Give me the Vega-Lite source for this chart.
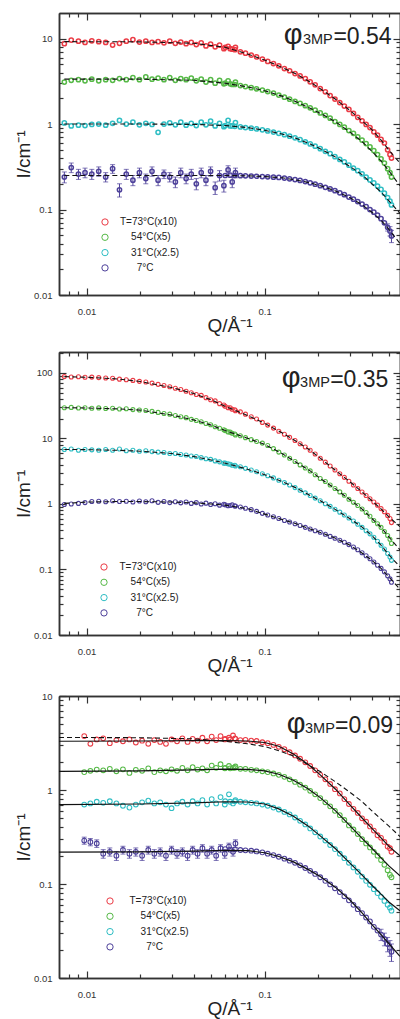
{
"$schema": "https://vega.github.io/schema/vega-lite/v6.json",
"padding": {"left": 14, "top": 12, "right": 0, "bottom": 0},
"spacing": 15,
"background": "white",
"config": {
  "view": {"stroke": null},
  "axis": {"grid": false, "domainColor": "#333333", "domainWidth": 1.5, "tickColor": "#333333", "tickWidth": 1.2, "labelColor": "#333333", "labelFont": "Liberation Sans", "labelFontSize": 9.5, "titleFont": "Liberation Sans", "titleFontWeight": "normal", "titleColor": "#222222", "labelFlush": false},
  "legend": {"orient": "none", "title": null, "symbolType": "circle", "symbolSize": 40, "symbolStrokeWidth": 1, "labelFont": "Liberation Sans", "labelFontSize": 10, "labelColor": "#222222", "rowPadding": 3.3, "padding": 0}
},
"datasets": {
"d1": [
{"q":0.0075,"a":8.7,"b":3.1,"c":1.03,"d":0.24},{"q":0.0082,"a":9.6,"b":3.25,"c":0.95,"d":0.31},{"q":0.009,"a":9.3,"b":3.3,"c":0.97,"d":0.26},{"q":0.0098,"a":9.0,"b":3.2,"c":0.96,"d":0.27},{"q":0.0107,"a":9.4,"b":3.35,"c":0.99,"d":0.26},{"q":0.0117,"a":9.2,"b":3.2,"c":1.0,"d":0.28},{"q":0.0128,"a":9.0,"b":3.3,"c":0.97,"d":0.24},{"q":0.014,"a":8.4,"b":3.25,"c":1.02,"d":0.3},{"q":0.0153,"a":8.8,"b":3.4,"c":1.1,"d":0.17},{"q":0.0167,"a":9.3,"b":3.3,"c":1.0,"d":0.26},{"q":0.0182,"a":9.7,"b":3.5,"c":1.05,"d":0.22},{"q":0.0198,"a":9.1,"b":3.3,"c":0.98,"d":0.27},{"q":0.0215,"a":9.3,"b":3.55,"c":1.02,"d":0.23},{"q":0.0233,"a":9.0,"b":3.35,"c":0.99,"d":0.28},{"q":0.0252,"a":9.2,"b":3.45,"c":0.8,"d":0.22},{"q":0.0272,"a":8.9,"b":3.3,"c":1.0,"d":0.26},{"q":0.0293,"a":9.3,"b":3.5,"c":1.03,"d":0.24},{"q":0.0315,"a":8.8,"b":3.25,"c":0.98,"d":0.21},{"q":0.0338,"a":9.1,"b":3.4,"c":1.05,"d":0.27},{"q":0.0362,"a":8.7,"b":3.3,"c":0.97,"d":0.23},{"q":0.0387,"a":9.0,"b":3.45,"c":1.02,"d":0.26},{"q":0.0413,"a":8.5,"b":3.2,"c":0.96,"d":0.2},{"q":0.044,"a":8.9,"b":3.35,"c":1.05,"d":0.27},{"q":0.0468,"a":8.2,"b":3.1,"c":0.98,"d":0.22},{"q":0.0497,"a":8.6,"b":3.3,"c":1.08,"d":0.28},{"q":0.0527,"a":8.0,"b":3.0,"c":0.95,"d":0.18},{"q":0.0558,"a":8.4,"b":3.25,"c":1.02,"d":0.25},{"q":0.059,"a":7.6,"b":2.95,"c":0.93,"d":0.19},{"q":0.0623,"a":8.1,"b":3.2,"c":1.1,"d":0.29},{"q":0.0657,"a":7.5,"b":2.9,"c":0.95,"d":0.21},{"q":0.0685,"a":7.9,"b":3.1,"c":1.04,"d":0.27},
{"q":0.06,"a":7.9,"b":3.0,"c":0.96,"d":0.25},{"q":0.064,"a":7.6,"b":2.95,"c":0.95,"d":0.252},{"q":0.068,"a":7.4,"b":2.9,"c":0.94,"d":0.25},{"q":0.073,"a":7.0,"b":2.82,"c":0.925,"d":0.249},{"q":0.078,"a":6.75,"b":2.74,"c":0.91,"d":0.248},{"q":0.084,"a":6.4,"b":2.66,"c":0.895,"d":0.246},{"q":0.09,"a":6.1,"b":2.58,"c":0.875,"d":0.245},{"q":0.097,"a":5.75,"b":2.5,"c":0.855,"d":0.243},{"q":0.104,"a":5.4,"b":2.4,"c":0.83,"d":0.241},{"q":0.112,"a":5.1,"b":2.3,"c":0.805,"d":0.239},{"q":0.12,"a":4.8,"b":2.18,"c":0.78,"d":0.237},{"q":0.129,"a":4.45,"b":2.06,"c":0.75,"d":0.233},{"q":0.138,"a":4.2,"b":1.95,"c":0.72,"d":0.229},{"q":0.148,"a":3.9,"b":1.84,"c":0.69,"d":0.224},{"q":0.158,"a":3.65,"b":1.74,"c":0.655,"d":0.219},{"q":0.169,"a":3.4,"b":1.64,"c":0.62,"d":0.212},{"q":0.18,"a":3.12,"b":1.55,"c":0.585,"d":0.205},{"q":0.192,"a":2.88,"b":1.45,"c":0.55,"d":0.198},{"q":0.205,"a":2.6,"b":1.35,"c":0.515,"d":0.19},{"q":0.219,"a":2.38,"b":1.26,"c":0.48,"d":0.182},{"q":0.233,"a":2.15,"b":1.17,"c":0.45,"d":0.174},{"q":0.248,"a":1.96,"b":1.07,"c":0.415,"d":0.166},{"q":0.264,"a":1.78,"b":0.99,"c":0.385,"d":0.157},{"q":0.28,"a":1.62,"b":0.92,"c":0.36,"d":0.149},{"q":0.297,"a":1.48,"b":0.84,"c":0.33,"d":0.14},{"q":0.315,"a":1.33,"b":0.78,"c":0.305,"d":0.132},{"q":0.333,"a":1.2,"b":0.71,"c":0.285,"d":0.124},{"q":0.352,"a":1.09,"b":0.65,"c":0.262,"d":0.116},{"q":0.371,"a":0.99,"b":0.59,"c":0.24,"d":0.108},{"q":0.39,"a":0.91,"b":0.54,"c":0.222,"d":0.1},{"q":0.41,"a":0.81,"b":0.49,"c":0.205,"d":0.093},{"q":0.43,"a":0.74,"b":0.44,"c":0.188,"d":0.086},{"q":0.45,"a":0.66,"b":0.39,"c":0.172,"d":0.078},{"q":0.47,"a":0.6,"b":0.35,"c":0.155,"d":0.07},{"q":0.49,"a":0.5,"b":0.3,"c":0.138,"d":0.062},{"q":0.505,"a":0.44,"b":0.27,"c":0.125,"d":0.056},{"q":0.515,"a":0.4,"b":0.24,"c":0.113,"d":0.049}
],
"f1": [
{"q":0.0075,"a":9.2,"b":3.35,"c":1.0,"d":0.25},{"q":0.02,"a":9.15,"b":3.35,"c":1.0,"d":0.25},{"q":0.04,"a":8.8,"b":3.25,"c":0.99,"d":0.25},{"q":0.06,"a":7.9,"b":3.0,"c":0.96,"d":0.25},{"q":0.08,"a":6.6,"b":2.72,"c":0.91,"d":0.248},{"q":0.1,"a":5.6,"b":2.45,"c":0.845,"d":0.243},{"q":0.125,"a":4.6,"b":2.12,"c":0.765,"d":0.235},{"q":0.15,"a":3.85,"b":1.82,"c":0.68,"d":0.222},{"q":0.18,"a":3.1,"b":1.53,"c":0.585,"d":0.205},{"q":0.21,"a":2.5,"b":1.3,"c":0.5,"d":0.187},{"q":0.25,"a":1.95,"b":1.06,"c":0.41,"d":0.165},{"q":0.3,"a":1.45,"b":0.81,"c":0.32,"d":0.138},{"q":0.35,"a":1.1,"b":0.63,"c":0.258,"d":0.115},{"q":0.4,"a":0.86,"b":0.48,"c":0.2,"d":0.093},{"q":0.45,"a":0.65,"b":0.37,"c":0.16,"d":0.075},{"q":0.5,"a":0.49,"b":0.28,"c":0.125,"d":0.058},{"q":0.575,"a":0.35,"b":0.19,"c":0.09,"d":0.04}
],
"e1": [
{"q":0.0075,"i":0.24,"e":0.035},{"q":0.0082,"i":0.31,"e":0.04},{"q":0.009,"i":0.26,"e":0.035},{"q":0.0098,"i":0.27,"e":0.035},{"q":0.0107,"i":0.26,"e":0.035},{"q":0.0117,"i":0.28,"e":0.035},{"q":0.0128,"i":0.24,"e":0.03},{"q":0.014,"i":0.3,"e":0.035},{"q":0.0153,"i":0.17,"e":0.03},{"q":0.0167,"i":0.26,"e":0.035},{"q":0.0182,"i":0.22,"e":0.03},{"q":0.0198,"i":0.27,"e":0.035},{"q":0.0215,"i":0.23,"e":0.03},{"q":0.0233,"i":0.28,"e":0.035},{"q":0.0252,"i":0.22,"e":0.03},{"q":0.0272,"i":0.26,"e":0.03},{"q":0.0293,"i":0.24,"e":0.03},{"q":0.0315,"i":0.21,"e":0.03},{"q":0.0338,"i":0.27,"e":0.035},{"q":0.0362,"i":0.23,"e":0.03},{"q":0.0387,"i":0.26,"e":0.035},{"q":0.0413,"i":0.2,"e":0.03},{"q":0.044,"i":0.27,"e":0.035},{"q":0.0468,"i":0.22,"e":0.03},{"q":0.0497,"i":0.28,"e":0.035},{"q":0.0527,"i":0.18,"e":0.03},{"q":0.0558,"i":0.25,"e":0.035},{"q":0.059,"i":0.19,"e":0.03},{"q":0.0623,"i":0.29,"e":0.035},{"q":0.0657,"i":0.21,"e":0.03},{"q":0.0685,"i":0.27,"e":0.035},{"q":0.49,"i":0.062,"e":0.006},{"q":0.505,"i":0.056,"e":0.007},{"q":0.515,"i":0.049,"e":0.008}
],
"d2": [
{"q":0.0075,"a":88,"b":29.5,"c":6.8,"d":0.98},{"q":0.0082,"a":87,"b":29.8,"c":6.9,"d":1.0},{"q":0.009,"a":87.5,"b":29.2,"c":6.6,"d":1.02},{"q":0.0098,"a":86,"b":29.5,"c":6.8,"d":1.05},{"q":0.0107,"a":86.5,"b":29,"c":6.7,"d":1.09},{"q":0.0117,"a":85,"b":29.3,"c":6.6,"d":1.1},{"q":0.0128,"a":84,"b":28.7,"c":6.8,"d":1.08},{"q":0.014,"a":83,"b":29,"c":6.6,"d":1.12},{"q":0.0153,"a":80.5,"b":28.2,"c":6.9,"d":1.09},{"q":0.0167,"a":79,"b":28.5,"c":6.5,"d":1.1},{"q":0.0182,"a":77,"b":27.6,"c":6.6,"d":1.07},{"q":0.0198,"a":74.5,"b":27.2,"c":6.4,"d":1.11},{"q":0.0215,"a":73,"b":26.8,"c":6.5,"d":1.08},{"q":0.0233,"a":70,"b":25.9,"c":6.3,"d":1.12},{"q":0.0252,"a":67,"b":25,"c":6.2,"d":1.06},{"q":0.0272,"a":64.5,"b":24,"c":6.1,"d":1.09},{"q":0.0293,"a":61.5,"b":23.5,"c":5.9,"d":1.05},{"q":0.0315,"a":58.5,"b":22.4,"c":5.9,"d":1.08},{"q":0.0338,"a":56,"b":21.5,"c":5.7,"d":1.04},{"q":0.0362,"a":52.5,"b":20.8,"c":5.6,"d":1.07},{"q":0.0387,"a":50,"b":19.6,"c":5.4,"d":1.02},{"q":0.0413,"a":47,"b":18.8,"c":5.3,"d":1.05},{"q":0.044,"a":45.5,"b":18,"c":5.1,"d":1.0},{"q":0.0468,"a":42,"b":16.9,"c":4.9,"d":1.03},{"q":0.0497,"a":39,"b":16.2,"c":4.8,"d":0.98},{"q":0.0527,"a":37.5,"b":15.1,"c":4.55,"d":1.01},{"q":0.0558,"a":34,"b":14.3,"c":4.4,"d":0.96},{"q":0.059,"a":32.5,"b":13.6,"c":4.2,"d":0.99},{"q":0.0623,"a":29.5,"b":12.6,"c":4.1,"d":0.94},{"q":0.0657,"a":28,"b":12,"c":3.9,"d":0.97},{"q":0.0685,"a":26.5,"b":11.3,"c":3.8,"d":0.93},
{"q":0.06,"a":31,"b":13.2,"c":4.2,"d":0.97},{"q":0.064,"a":29.5,"b":12.5,"c":4.05,"d":0.95},{"q":0.068,"a":27.5,"b":11.7,"c":3.9,"d":0.93},{"q":0.073,"a":25.5,"b":11.0,"c":3.7,"d":0.9},{"q":0.078,"a":23.5,"b":10.3,"c":3.5,"d":0.86},{"q":0.084,"a":21.5,"b":9.6,"c":3.3,"d":0.82},{"q":0.09,"a":19.8,"b":9.0,"c":3.1,"d":0.77},{"q":0.097,"a":17.6,"b":8.5,"c":2.9,"d":0.72},{"q":0.104,"a":16,"b":7.8,"c":2.7,"d":0.68},{"q":0.112,"a":14.4,"b":7.0,"c":2.5,"d":0.64},{"q":0.12,"a":12.9,"b":6.2,"c":2.3,"d":0.6},{"q":0.129,"a":11.6,"b":5.6,"c":2.12,"d":0.56},{"q":0.138,"a":10.4,"b":5.0,"c":1.95,"d":0.53},{"q":0.148,"a":9.3,"b":4.45,"c":1.78,"d":0.5},{"q":0.158,"a":8.3,"b":3.95,"c":1.62,"d":0.47},{"q":0.169,"a":7.4,"b":3.55,"c":1.48,"d":0.44},{"q":0.18,"a":6.6,"b":3.2,"c":1.35,"d":0.415},{"q":0.192,"a":5.8,"b":2.8,"c":1.23,"d":0.39},{"q":0.205,"a":5.0,"b":2.45,"c":1.12,"d":0.37},{"q":0.219,"a":4.35,"b":2.2,"c":1.01,"d":0.345},{"q":0.233,"a":3.8,"b":1.95,"c":0.92,"d":0.32},{"q":0.248,"a":3.3,"b":1.72,"c":0.83,"d":0.3},{"q":0.264,"a":2.9,"b":1.53,"c":0.75,"d":0.28},{"q":0.28,"a":2.55,"b":1.36,"c":0.68,"d":0.26},{"q":0.297,"a":2.22,"b":1.18,"c":0.61,"d":0.24},{"q":0.315,"a":1.95,"b":1.06,"c":0.55,"d":0.22},{"q":0.333,"a":1.72,"b":0.95,"c":0.49,"d":0.2},{"q":0.352,"a":1.52,"b":0.84,"c":0.44,"d":0.18},{"q":0.371,"a":1.35,"b":0.74,"c":0.39,"d":0.162},{"q":0.39,"a":1.2,"b":0.65,"c":0.35,"d":0.146},{"q":0.41,"a":1.07,"b":0.56,"c":0.31,"d":0.13},{"q":0.43,"a":0.96,"b":0.5,"c":0.27,"d":0.116},{"q":0.45,"a":0.85,"b":0.44,"c":0.235,"d":0.104},{"q":0.47,"a":0.76,"b":0.38,"c":0.205,"d":0.092},{"q":0.49,"a":0.67,"b":0.33,"c":0.175,"d":0.08},{"q":0.505,"a":0.6,"b":0.29,"c":0.155,"d":0.072},{"q":0.515,"a":0.52,"b":0.25,"c":0.138,"d":0.064}
],
"f2": [
{"q":0.0075,"a":88,"b":29.5,"c":6.8,"d":1.02},{"q":0.01,"a":86,"b":29.2,"c":6.75,"d":1.07},{"q":0.015,"a":81,"b":28.3,"c":6.6,"d":1.09},{"q":0.02,"a":74,"b":27.1,"c":6.4,"d":1.09},{"q":0.03,"a":60,"b":22.8,"c":5.9,"d":1.07},{"q":0.04,"a":48.5,"b":19.2,"c":5.3,"d":1.04},{"q":0.05,"a":39,"b":16.0,"c":4.7,"d":1.0},{"q":0.06,"a":31,"b":13.2,"c":4.2,"d":0.96},{"q":0.08,"a":22.5,"b":10.1,"c":3.4,"d":0.85},{"q":0.1,"a":17,"b":8.1,"c":2.8,"d":0.7},{"q":0.125,"a":12.2,"b":5.9,"c":2.2,"d":0.58},{"q":0.15,"a":9.1,"b":4.35,"c":1.76,"d":0.5},{"q":0.18,"a":6.6,"b":3.2,"c":1.35,"d":0.415},{"q":0.21,"a":4.75,"b":2.35,"c":1.08,"d":0.36},{"q":0.25,"a":3.25,"b":1.7,"c":0.82,"d":0.3},{"q":0.3,"a":2.2,"b":1.17,"c":0.6,"d":0.236},{"q":0.35,"a":1.55,"b":0.85,"c":0.45,"d":0.18},{"q":0.4,"a":1.12,"b":0.6,"c":0.33,"d":0.138},{"q":0.45,"a":0.84,"b":0.44,"c":0.235,"d":0.104},{"q":0.5,"a":0.63,"b":0.31,"c":0.165,"d":0.076},{"q":0.575,"a":0.45,"b":0.2,"c":0.11,"d":0.05}
],
"d3": [
{"q":0.0097,"a":3.75,"b":1.55,"c":0.7,"d":0.29},{"q":0.0105,"a":3.1,"b":1.6,"c":0.72,"d":0.28},{"q":0.0114,"a":3.45,"b":1.65,"c":0.75,"d":0.27},{"q":0.0124,"a":3.55,"b":1.62,"c":0.73,"d":0.21},{"q":0.0135,"a":3.15,"b":1.68,"c":0.76,"d":0.22},{"q":0.0147,"a":3.4,"b":1.58,"c":0.72,"d":0.2},{"q":0.016,"a":3.3,"b":1.66,"c":0.68,"d":0.23},{"q":0.0174,"a":3.45,"b":1.52,"c":0.65,"d":0.21},{"q":0.0189,"a":3.2,"b":1.64,"c":0.7,"d":0.22},{"q":0.0205,"a":3.35,"b":1.6,"c":0.74,"d":0.2},{"q":0.0222,"a":3.1,"b":1.7,"c":0.77,"d":0.23},{"q":0.024,"a":3.4,"b":1.55,"c":0.72,"d":0.21},{"q":0.0259,"a":3.25,"b":1.62,"c":0.74,"d":0.22},{"q":0.0279,"a":3.1,"b":1.58,"c":0.7,"d":0.2},{"q":0.03,"a":3.45,"b":1.66,"c":0.64,"d":0.23},{"q":0.0322,"a":3.3,"b":1.6,"c":0.72,"d":0.21},{"q":0.0345,"a":3.55,"b":1.72,"c":0.75,"d":0.22},{"q":0.0369,"a":3.25,"b":1.62,"c":0.7,"d":0.2},{"q":0.0394,"a":3.5,"b":1.75,"c":0.76,"d":0.23},{"q":0.042,"a":3.35,"b":1.65,"c":0.72,"d":0.21},{"q":0.0447,"a":3.6,"b":1.7,"c":0.78,"d":0.24},{"q":0.0475,"a":3.3,"b":1.62,"c":0.7,"d":0.21},{"q":0.0504,"a":3.7,"b":1.82,"c":0.8,"d":0.23},{"q":0.0534,"a":3.4,"b":1.72,"c":0.72,"d":0.2},{"q":0.0565,"a":3.75,"b":1.88,"c":0.84,"d":0.24},{"q":0.0597,"a":3.45,"b":1.7,"c":0.7,"d":0.21},{"q":0.063,"a":3.6,"b":1.8,"c":0.9,"d":0.25},{"q":0.0664,"a":3.8,"b":1.72,"c":0.72,"d":0.22},{"q":0.0685,"a":3.5,"b":1.78,"c":0.78,"d":0.27},
{"q":0.06,"a":3.5,"b":1.72,"c":0.76,"d":0.235},{"q":0.064,"a":3.45,"b":1.7,"c":0.75,"d":0.232},{"q":0.068,"a":3.55,"b":1.72,"c":0.76,"d":0.234},{"q":0.073,"a":3.4,"b":1.68,"c":0.75,"d":0.23},{"q":0.078,"a":3.42,"b":1.68,"c":0.74,"d":0.228},{"q":0.084,"a":3.35,"b":1.64,"c":0.73,"d":0.226},{"q":0.09,"a":3.32,"b":1.62,"c":0.72,"d":0.222},{"q":0.097,"a":3.22,"b":1.58,"c":0.7,"d":0.217},{"q":0.104,"a":3.15,"b":1.55,"c":0.68,"d":0.21},{"q":0.112,"a":3.02,"b":1.5,"c":0.65,"d":0.203},{"q":0.12,"a":2.88,"b":1.45,"c":0.62,"d":0.195},{"q":0.129,"a":2.72,"b":1.38,"c":0.585,"d":0.186},{"q":0.138,"a":2.52,"b":1.3,"c":0.55,"d":0.177},{"q":0.148,"a":2.33,"b":1.22,"c":0.51,"d":0.168},{"q":0.158,"a":2.15,"b":1.14,"c":0.47,"d":0.158},{"q":0.169,"a":1.97,"b":1.06,"c":0.43,"d":0.148},{"q":0.18,"a":1.8,"b":0.98,"c":0.39,"d":0.138},{"q":0.192,"a":1.62,"b":0.9,"c":0.355,"d":0.128},{"q":0.205,"a":1.45,"b":0.82,"c":0.32,"d":0.118},{"q":0.219,"a":1.3,"b":0.74,"c":0.29,"d":0.108},{"q":0.233,"a":1.16,"b":0.67,"c":0.26,"d":0.099},{"q":0.248,"a":1.02,"b":0.6,"c":0.235,"d":0.09},{"q":0.264,"a":0.92,"b":0.54,"c":0.21,"d":0.082},{"q":0.28,"a":0.8,"b":0.48,"c":0.188,"d":0.074},{"q":0.297,"a":0.71,"b":0.42,"c":0.168,"d":0.067},{"q":0.315,"a":0.63,"b":0.38,"c":0.15,"d":0.06},{"q":0.333,"a":0.57,"b":0.34,"c":0.135,"d":0.054},{"q":0.352,"a":0.5,"b":0.3,"c":0.12,"d":0.049},{"q":0.371,"a":0.46,"b":0.27,"c":0.108,"d":0.044},{"q":0.39,"a":0.41,"b":0.245,"c":0.098,"d":0.04},{"q":0.41,"a":0.37,"b":0.22,"c":0.088,"d":0.035},{"q":0.43,"a":0.33,"b":0.2,"c":0.08,"d":0.032},{"q":0.45,"a":0.31,"b":0.18,"c":0.073,"d":0.029},{"q":0.47,"a":0.28,"b":0.16,"c":0.066,"d":0.026},{"q":0.49,"a":0.25,"b":0.14,"c":0.06,"d":0.023},{"q":0.505,"a":0.24,"b":0.125,"c":0.056,"d":0.021},{"q":0.515,"a":0.22,"b":0.118,"c":0.052,"d":0.019}
],
"f3": [
{"q":0.007,"a":3.3,"b":1.58,"c":0.7,"d":0.218},{"q":0.02,"a":3.32,"b":1.6,"c":0.71,"d":0.22},{"q":0.04,"a":3.35,"b":1.64,"c":0.73,"d":0.224},{"q":0.06,"a":3.36,"b":1.67,"c":0.75,"d":0.228},{"q":0.08,"a":3.32,"b":1.66,"c":0.745,"d":0.226},{"q":0.1,"a":3.2,"b":1.6,"c":0.71,"d":0.215},{"q":0.12,"a":2.92,"b":1.47,"c":0.63,"d":0.196},{"q":0.145,"a":2.42,"b":1.27,"c":0.525,"d":0.172},{"q":0.175,"a":1.88,"b":1.03,"c":0.415,"d":0.143},{"q":0.205,"a":1.45,"b":0.83,"c":0.325,"d":0.12},{"q":0.25,"a":1.02,"b":0.6,"c":0.237,"d":0.092},{"q":0.3,"a":0.7,"b":0.42,"c":0.168,"d":0.068},{"q":0.35,"a":0.51,"b":0.31,"c":0.126,"d":0.05},{"q":0.4,"a":0.39,"b":0.24,"c":0.097,"d":0.037},{"q":0.45,"a":0.31,"b":0.19,"c":0.078,"d":0.029},{"q":0.5,"a":0.25,"b":0.155,"c":0.064,"d":0.023},{"q":0.575,"a":0.2,"b":0.122,"c":0.052,"d":0.017}
],
"g3": [
{"q":0.007,"i":3.62},{"q":0.02,"i":3.6},{"q":0.04,"i":3.5},{"q":0.06,"i":3.3},{"q":0.08,"i":3.1},{"q":0.1,"i":2.9},{"q":0.12,"i":2.62},{"q":0.145,"i":2.3},{"q":0.175,"i":1.86},{"q":0.205,"i":1.57},{"q":0.25,"i":1.22},{"q":0.3,"i":0.95},{"q":0.35,"i":0.76},{"q":0.4,"i":0.6},{"q":0.45,"i":0.49},{"q":0.5,"i":0.41},{"q":0.575,"i":0.32}
],
"e3": [
{"q":0.0097,"i":0.29,"e":0.025},{"q":0.0105,"i":0.28,"e":0.025},{"q":0.0114,"i":0.27,"e":0.025},{"q":0.0124,"i":0.21,"e":0.022},{"q":0.0135,"i":0.22,"e":0.022},{"q":0.0147,"i":0.2,"e":0.022},{"q":0.016,"i":0.23,"e":0.022},{"q":0.0174,"i":0.21,"e":0.022},{"q":0.0189,"i":0.22,"e":0.022},{"q":0.0205,"i":0.2,"e":0.022},{"q":0.0222,"i":0.23,"e":0.022},{"q":0.024,"i":0.21,"e":0.022},{"q":0.0259,"i":0.22,"e":0.022},{"q":0.0279,"i":0.2,"e":0.022},{"q":0.03,"i":0.23,"e":0.022},{"q":0.0322,"i":0.21,"e":0.022},{"q":0.0345,"i":0.22,"e":0.022},{"q":0.0369,"i":0.2,"e":0.022},{"q":0.0394,"i":0.23,"e":0.022},{"q":0.042,"i":0.21,"e":0.022},{"q":0.0447,"i":0.24,"e":0.022},{"q":0.0475,"i":0.21,"e":0.022},{"q":0.0504,"i":0.23,"e":0.022},{"q":0.0534,"i":0.2,"e":0.022},{"q":0.0565,"i":0.24,"e":0.022},{"q":0.0597,"i":0.21,"e":0.022},{"q":0.063,"i":0.25,"e":0.022},{"q":0.0664,"i":0.22,"e":0.022},{"q":0.0685,"i":0.27,"e":0.025},{"q":0.45,"i":0.029,"e":0.004},{"q":0.47,"i":0.026,"e":0.004},{"q":0.49,"i":0.023,"e":0.004},{"q":0.505,"i":0.021,"e":0.004},{"q":0.515,"i":0.019,"e":0.004}
]
},
"resolve": {"scale": {"color": "independent"}},
"vconcat": [
{
 "width": 341, "height": 282,
 "resolve": {"axis": {"x": "independent", "y": "independent"}},
 "layer": [
  {
   "data": {"name": "d1"},
   "transform": [{"fold": ["a","b","c","d"], "as": ["s","i"]}],
   "mark": {"type": "point", "shape": "circle", "filled": false, "size": 18, "strokeWidth": 1.5, "opacity": 1},
   "encoding": {
    "x": {"field": "q", "type": "quantitative", "scale": {"type": "log", "domain": [0.007, 0.575], "nice": false}, "axis": {"orient": "bottom", "values": [0.01, 0.1], "format": "~g", "tickSize": -7, "labelPadding": 18, "title": "Q/Å⁻¹", "titleFontSize": 19, "titlePadding": 1}},
    "y": {"field": "i", "type": "quantitative", "scale": {"type": "log", "domain": [0.01, 19.9], "nice": false}, "axis": {"orient": "left", "values": [0.01, 0.1, 1, 10], "format": "~g", "tickSize": -7, "labelPadding": 14, "title": "I/cm⁻¹", "titleFontSize": 19, "titlePadding": 0}},
    "color": {"field": "s", "type": "nominal", "scale": {"domain": ["a","b","c","d"], "range": ["#eb3b45","#56b947","#2fbec4","#4d409a"]}, "legend": {"legendX": 41, "legendY": 204, "labelOffset": 10, "labelExpr": "datum.value == 'a' ? 'T=73°C(x10)' : datum.value == 'b' ? '\u200b\u2007\u200754°C(x5)' : datum.value == 'c' ? '\u200b\u2007\u200731°C(x2.5)' : '\u200b\u2007\u2007\u20077°C'"}}
   }
  },
  {
   "data": {"name": "e1"},
   "mark": {"type": "errorbar", "ticks": true, "color": "#4d409a", "thickness": 1},
   "encoding": {
    "x": {"field": "q", "type": "quantitative", "scale": {"type": "log", "domain": [0.007, 0.575], "nice": false}, "axis": null},
    "y": {"field": "i", "type": "quantitative", "scale": {"type": "log", "domain": [0.01, 19.9], "nice": false}, "axis": null},
    "yError": {"field": "e"}
   }
  },
  {
   "data": {"name": "f1"},
   "transform": [{"fold": ["a","b","c","d"], "as": ["s","i"]}],
   "mark": {"type": "line", "color": "#111111", "strokeWidth": 1.1, "strokeDash": [5, 3], "clip": true},
   "encoding": {
    "x": {"field": "q", "type": "quantitative", "scale": {"type": "log", "domain": [0.007, 0.575], "nice": false}, "axis": {"orient": "bottom", "values": [0.008,0.009,0.02,0.03,0.04,0.05,0.06,0.07,0.08,0.09,0.2,0.3,0.4,0.5], "labels": false, "tickSize": -4, "title": null}},
    "y": {"field": "i", "type": "quantitative", "scale": {"type": "log", "domain": [0.01, 19.9], "nice": false}, "axis": {"orient": "left", "values": [0.02,0.03,0.04,0.05,0.06,0.07,0.08,0.09,0.2,0.3,0.4,0.5,0.6,0.7,0.8,0.9,2,3,4,5,6,7,8,9], "labels": false, "tickSize": -4, "title": null}},
    "detail": {"field": "s", "type": "nominal"}
   }
  },
  {
   "data": {"values": [{"q": 0.243, "i": 8.74, "t": "=0.54"}]},
   "mark": {"type": "text", "align": "left", "baseline": "alphabetic", "fontSize": 23, "font": "Liberation Sans", "color": "#222222"},
   "encoding": {
    "x": {"field": "q", "type": "quantitative", "scale": {"type": "log", "domain": [0.007, 0.575], "nice": false}, "axis": {"orient": "top", "values": [0.01, 0.1], "labels": false, "tickSize": -7, "title": null}},
    "y": {"field": "i", "type": "quantitative", "scale": {"type": "log", "domain": [0.01, 19.9], "nice": false}, "axis": {"orient": "right", "values": [0.01, 0.1, 1, 10], "labels": false, "tickSize": -7, "title": null}},
    "text": {"field": "t"}
   }
  },
  {
   "data": {"values": [{"q": 0.128, "i": 8.74, "t": "φ"}]},
   "mark": {"type": "text", "align": "left", "baseline": "alphabetic", "fontSize": 29, "font": "Liberation Sans", "color": "#222222"},
   "encoding": {
    "x": {"field": "q", "type": "quantitative", "scale": {"type": "log", "domain": [0.007, 0.575], "nice": false}, "axis": null},
    "y": {"field": "i", "type": "quantitative", "scale": {"type": "log", "domain": [0.01, 19.9], "nice": false}, "axis": null},
    "text": {"field": "t"}
   }
  },
  {
   "data": {"values": [{"q": 0.164, "i": 8.74, "t": "3MP"}]},
   "mark": {"type": "text", "align": "left", "baseline": "alphabetic", "fontSize": 14.5, "font": "Liberation Sans", "color": "#222222"},
   "encoding": {
    "x": {"field": "q", "type": "quantitative", "scale": {"type": "log", "domain": [0.007, 0.575], "nice": false}, "axis": {"orient": "top", "values": [0.008,0.009,0.02,0.03,0.04,0.05,0.06,0.07,0.08,0.09,0.2,0.3,0.4,0.5], "labels": false, "tickSize": -4, "title": null}},
    "y": {"field": "i", "type": "quantitative", "scale": {"type": "log", "domain": [0.01, 19.9], "nice": false}, "axis": {"orient": "right", "values": [0.02,0.03,0.04,0.05,0.06,0.07,0.08,0.09,0.2,0.3,0.4,0.5,0.6,0.7,0.8,0.9,2,3,4,5,6,7,8,9], "labels": false, "tickSize": -4, "title": null}},
    "text": {"field": "t"}
   }
  }
 ]
},
{
 "width": 341, "height": 283,
 "resolve": {"axis": {"x": "independent", "y": "independent"}},
 "layer": [
  {
   "data": {"name": "d2"},
   "transform": [{"fold": ["a","b","c","d"], "as": ["s","i"]}],
   "mark": {"type": "point", "shape": "circle", "filled": false, "size": 16, "strokeWidth": 1.1, "opacity": 1},
   "encoding": {
    "x": {"field": "q", "type": "quantitative", "scale": {"type": "log", "domain": [0.007, 0.575], "nice": false}, "axis": {"orient": "bottom", "values": [0.01, 0.1], "format": "~g", "tickSize": -7, "labelPadding": 18, "title": "Q/Å⁻¹", "titleFontSize": 19, "titlePadding": 1}},
    "y": {"field": "i", "type": "quantitative", "scale": {"type": "log", "domain": [0.01, 209], "nice": false}, "axis": {"orient": "left", "values": [0.01, 0.1, 1, 10, 100], "format": "~g", "tickSize": -7, "labelPadding": 14, "title": "I/cm⁻¹", "titleFontSize": 19, "titlePadding": 0}},
    "color": {"field": "s", "type": "nominal", "scale": {"domain": ["a","b","c","d"], "range": ["#eb3b45","#56b947","#2fbec4","#4d409a"]}, "legend": {"legendX": 40, "legendY": 210, "labelOffset": 10.5, "labelExpr": "datum.value == 'a' ? 'T=73°C(x10)' : datum.value == 'b' ? '\u200b\u2007\u200754°C(x5)' : datum.value == 'c' ? '\u200b\u2007\u200731°C(x2.5)' : '\u200b\u2007\u2007\u20077°C'"}}
   }
  },
  {
   "data": {"name": "f2"},
   "transform": [{"fold": ["a","b","c","d"], "as": ["s","i"]}],
   "mark": {"type": "line", "color": "#111111", "strokeWidth": 1.1, "strokeDash": [5, 3], "clip": true},
   "encoding": {
    "x": {"field": "q", "type": "quantitative", "scale": {"type": "log", "domain": [0.007, 0.575], "nice": false}, "axis": {"orient": "bottom", "values": [0.008,0.009,0.02,0.03,0.04,0.05,0.06,0.07,0.08,0.09,0.2,0.3,0.4,0.5], "labels": false, "tickSize": -4, "title": null}},
    "y": {"field": "i", "type": "quantitative", "scale": {"type": "log", "domain": [0.01, 209], "nice": false}, "axis": {"orient": "left", "values": [0.02,0.03,0.04,0.05,0.06,0.07,0.08,0.09,0.2,0.3,0.4,0.5,0.6,0.7,0.8,0.9,2,3,4,5,6,7,8,9,20,30,40,50,60,70,80,90,200], "labels": false, "tickSize": -4, "title": null}},
    "detail": {"field": "s", "type": "nominal"}
   }
  },
  {
   "data": {"values": [{"q": 0.233, "i": 61.2, "t": "=0.35"}]},
   "mark": {"type": "text", "align": "left", "baseline": "alphabetic", "fontSize": 23, "font": "Liberation Sans", "color": "#222222"},
   "encoding": {
    "x": {"field": "q", "type": "quantitative", "scale": {"type": "log", "domain": [0.007, 0.575], "nice": false}, "axis": {"orient": "top", "values": [0.01, 0.1], "labels": false, "tickSize": -7, "title": null}},
    "y": {"field": "i", "type": "quantitative", "scale": {"type": "log", "domain": [0.01, 209], "nice": false}, "axis": {"orient": "right", "values": [0.01, 0.1, 1, 10, 100], "labels": false, "tickSize": -7, "title": null}},
    "text": {"field": "t"}
   }
  },
  {
   "data": {"values": [{"q": 0.1245, "i": 61.2, "t": "φ"}]},
   "mark": {"type": "text", "align": "left", "baseline": "alphabetic", "fontSize": 29, "font": "Liberation Sans", "color": "#222222"},
   "encoding": {
    "x": {"field": "q", "type": "quantitative", "scale": {"type": "log", "domain": [0.007, 0.575], "nice": false}, "axis": null},
    "y": {"field": "i", "type": "quantitative", "scale": {"type": "log", "domain": [0.01, 209], "nice": false}, "axis": null},
    "text": {"field": "t"}
   }
  },
  {
   "data": {"values": [{"q": 0.158, "i": 61.2, "t": "3MP"}]},
   "mark": {"type": "text", "align": "left", "baseline": "alphabetic", "fontSize": 14.5, "font": "Liberation Sans", "color": "#222222"},
   "encoding": {
    "x": {"field": "q", "type": "quantitative", "scale": {"type": "log", "domain": [0.007, 0.575], "nice": false}, "axis": {"orient": "top", "values": [0.008,0.009,0.02,0.03,0.04,0.05,0.06,0.07,0.08,0.09,0.2,0.3,0.4,0.5], "labels": false, "tickSize": -4, "title": null}},
    "y": {"field": "i", "type": "quantitative", "scale": {"type": "log", "domain": [0.01, 209], "nice": false}, "axis": {"orient": "right", "values": [0.02,0.03,0.04,0.05,0.06,0.07,0.08,0.09,0.2,0.3,0.4,0.5,0.6,0.7,0.8,0.9,2,3,4,5,6,7,8,9,20,30,40,50,60,70,80,90,200], "labels": false, "tickSize": -4, "title": null}},
    "text": {"field": "t"}
   }
  }
 ]
},
{
 "width": 341, "height": 282,
 "resolve": {"axis": {"x": "independent", "y": "independent"}},
 "layer": [
  {
   "data": {"name": "d3"},
   "transform": [{"fold": ["a","b","c","d"], "as": ["s","i"]}],
   "mark": {"type": "point", "shape": "circle", "filled": false, "size": 22, "strokeWidth": 1.1, "opacity": 1},
   "encoding": {
    "x": {"field": "q", "type": "quantitative", "scale": {"type": "log", "domain": [0.007, 0.575], "nice": false}, "axis": {"orient": "bottom", "values": [0.01, 0.1], "format": "~g", "tickSize": -7, "labelPadding": 18, "title": "Q/Å⁻¹", "titleFontSize": 19, "titlePadding": 1}},
    "y": {"field": "i", "type": "quantitative", "scale": {"type": "log", "domain": [0.01, 10], "nice": false}, "axis": {"orient": "left", "values": [0.01, 0.1, 1, 10], "format": "~g", "tickSize": -7, "labelPadding": 14, "title": "I/cm⁻¹", "titleFontSize": 19, "titlePadding": 0}},
    "color": {"field": "s", "type": "nominal", "scale": {"domain": ["a","b","c","d"], "range": ["#eb3b45","#56b947","#2fbec4","#4d409a"]}, "legend": {"legendX": 46, "legendY": 200, "labelOffset": 14.5, "labelExpr": "datum.value == 'a' ? 'T=73°C(x10)' : datum.value == 'b' ? '\u200b\u2007\u200754°C(x5)' : datum.value == 'c' ? '\u200b\u2007\u200731°C(x2.5)' : '\u200b\u2007\u2007\u20077°C'"}}
   }
  },
  {
   "data": {"name": "e3"},
   "mark": {"type": "errorbar", "ticks": true, "color": "#4d409a", "thickness": 1},
   "encoding": {
    "x": {"field": "q", "type": "quantitative", "scale": {"type": "log", "domain": [0.007, 0.575], "nice": false}, "axis": null},
    "y": {"field": "i", "type": "quantitative", "scale": {"type": "log", "domain": [0.01, 10], "nice": false}, "axis": null},
    "yError": {"field": "e"}
   }
  },
  {
   "data": {"name": "g3"},
   "mark": {"type": "line", "color": "#111111", "strokeWidth": 1.1, "strokeDash": [5, 3], "clip": true},
   "encoding": {
    "x": {"field": "q", "type": "quantitative", "scale": {"type": "log", "domain": [0.007, 0.575], "nice": false}, "axis": null},
    "y": {"field": "i", "type": "quantitative", "scale": {"type": "log", "domain": [0.01, 10], "nice": false}, "axis": null}
   }
  },
  {
   "data": {"name": "f3"},
   "transform": [{"fold": ["a","b","c","d"], "as": ["s","i"]}],
   "mark": {"type": "line", "color": "#111111", "strokeWidth": 1.2, "clip": true},
   "encoding": {
    "x": {"field": "q", "type": "quantitative", "scale": {"type": "log", "domain": [0.007, 0.575], "nice": false}, "axis": {"orient": "bottom", "values": [0.008,0.009,0.02,0.03,0.04,0.05,0.06,0.07,0.08,0.09,0.2,0.3,0.4,0.5], "labels": false, "tickSize": -4, "title": null}},
    "y": {"field": "i", "type": "quantitative", "scale": {"type": "log", "domain": [0.01, 10], "nice": false}, "axis": {"orient": "left", "values": [0.02,0.03,0.04,0.05,0.06,0.07,0.08,0.09,0.2,0.3,0.4,0.5,0.6,0.7,0.8,0.9,2,3,4,5,6,7,8,9], "labels": false, "tickSize": -4, "title": null}},
    "detail": {"field": "s", "type": "nominal"}
   }
  },
  {
   "data": {"values": [{"q": 0.248, "i": 4.07, "t": "=0.09"}]},
   "mark": {"type": "text", "align": "left", "baseline": "alphabetic", "fontSize": 23, "font": "Liberation Sans", "color": "#222222"},
   "encoding": {
    "x": {"field": "q", "type": "quantitative", "scale": {"type": "log", "domain": [0.007, 0.575], "nice": false}, "axis": {"orient": "top", "values": [0.01, 0.1], "labels": false, "tickSize": -7, "title": null}},
    "y": {"field": "i", "type": "quantitative", "scale": {"type": "log", "domain": [0.01, 10], "nice": false}, "axis": {"orient": "right", "values": [0.01, 0.1, 1, 10], "labels": false, "tickSize": -7, "title": null}},
    "text": {"field": "t"}
   }
  },
  {
   "data": {"values": [{"q": 0.133, "i": 4.07, "t": "φ"}]},
   "mark": {"type": "text", "align": "left", "baseline": "alphabetic", "fontSize": 29, "font": "Liberation Sans", "color": "#222222"},
   "encoding": {
    "x": {"field": "q", "type": "quantitative", "scale": {"type": "log", "domain": [0.007, 0.575], "nice": false}, "axis": null},
    "y": {"field": "i", "type": "quantitative", "scale": {"type": "log", "domain": [0.01, 10], "nice": false}, "axis": null},
    "text": {"field": "t"}
   }
  },
  {
   "data": {"values": [{"q": 0.1685, "i": 4.07, "t": "3MP"}]},
   "mark": {"type": "text", "align": "left", "baseline": "alphabetic", "fontSize": 14.5, "font": "Liberation Sans", "color": "#222222"},
   "encoding": {
    "x": {"field": "q", "type": "quantitative", "scale": {"type": "log", "domain": [0.007, 0.575], "nice": false}, "axis": {"orient": "top", "values": [0.008,0.009,0.02,0.03,0.04,0.05,0.06,0.07,0.08,0.09,0.2,0.3,0.4,0.5], "labels": false, "tickSize": -4, "title": null}},
    "y": {"field": "i", "type": "quantitative", "scale": {"type": "log", "domain": [0.01, 10], "nice": false}, "axis": {"orient": "right", "values": [0.02,0.03,0.04,0.05,0.06,0.07,0.08,0.09,0.2,0.3,0.4,0.5,0.6,0.7,0.8,0.9,2,3,4,5,6,7,8,9], "labels": false, "tickSize": -4, "title": null}},
    "text": {"field": "t"}
   }
  }
 ]
}
]
}
